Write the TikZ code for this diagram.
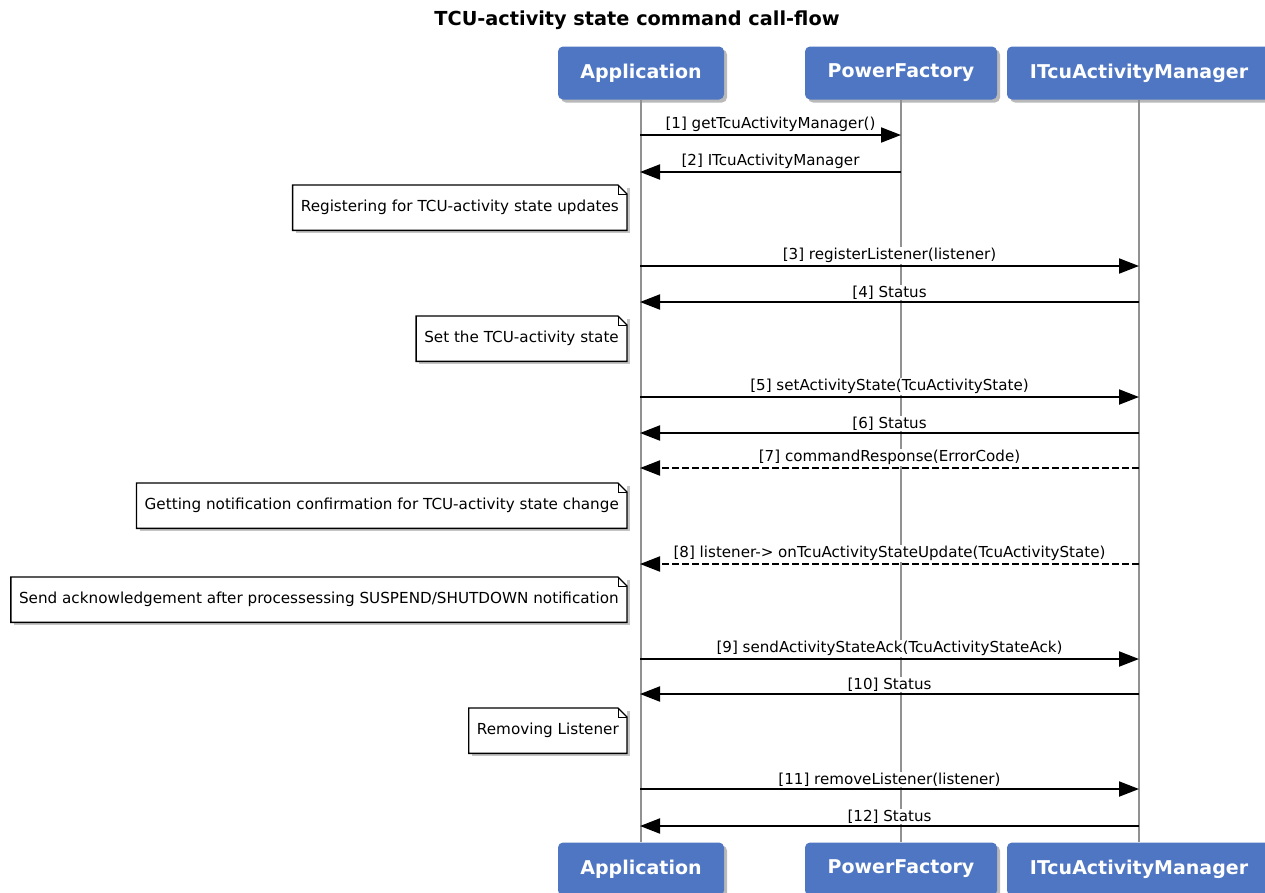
\documentclass[tikz,border=0pt]{standalone}
\usepackage{fontspec}
\setmainfont{DejaVu Sans}
\usetikzlibrary{arrows.meta,shadows}

\definecolor{headblue}{RGB}{79,118,194}
\definecolor{lifegray}{RGB}{145,145,145}

% fold corner of a note
\newcommand{\notefold}[1]{%
  \draw[noteline] (#1.north west) -- ([xshift=-9pt]#1.north east) -- ([yshift=-9pt]#1.north east)
    -- (#1.south east) -- (#1.south west) -- cycle;
  \draw[noteline,line width=1pt] ([xshift=-9pt]#1.north east) |- ([yshift=-9pt]#1.north east);
}

\begin{document}
\begin{tikzpicture}[x=1pt,y=-1pt]
\tikzset{
  head/.style={rectangle,rounded corners=5pt,fill=headblue,text=white,
    font=\bfseries\fontsize{19}{22}\selectfont,minimum height=53pt,
    drop shadow={shadow xshift=3pt,shadow yshift=-3pt,fill=black!55}},
  lifeline/.style={draw=lifegray,line width=2pt},
  note/.style={fill=white,anchor=north east,minimum height=45pt,inner xsep=8pt,
    font=\fontsize{15.2}{17}\selectfont,
    drop shadow={shadow xshift=3pt,shadow yshift=-3pt,fill=black!45}},
  noteline/.style={draw=black,line width=1.4pt,line join=miter},
  call/.style={-{Triangle[length=20pt,width=15pt]},line width=2pt},
  reply/.style={call,dash pattern=on 7pt off 3pt},
  msglabel/.style={above=1pt,fill=white,inner sep=1pt,font=\fontsize{15.1}{17}\selectfont}
}
\useasboundingbox (0,0) rectangle (1265,892);

\node[font=\bfseries\fontsize{19.3}{22}\selectfont] (title) at (637,20) {TCU-activity state command call-flow};

% participants
\node[head,minimum width=166pt] (appH) at (641,73) {Application};
\node[head,minimum width=192pt] (pfH) at (901,73) {PowerFactory};
\node[head,minimum width=264pt] (mgrH) at (1139,73) {ITcuActivityManager};
\node[head,minimum width=166pt] (appF) at (641,869) {Application};
\node[head,minimum width=192pt] (pfF) at (901,869) {PowerFactory};
\node[head,minimum width=264pt] (mgrF) at (1139,869) {ITcuActivityManager};

\draw[lifeline] (appH) -- (appF);
\draw[lifeline] (pfH) -- (pfF);
\draw[lifeline] (mgrH) -- (mgrF);

% notes
\node[note] (regNote) at (627,185) {Registering for TCU-activity state updates};
\node[note] (setNote) at (627,316) {Set the TCU-activity state};
\node[note] (getNote) at (627,483) {Getting notification confirmation for TCU-activity state change};
\node[note] (ackNote) at (627,577) {Send acknowledgement after processessing SUSPEND/SHUTDOWN notification};
\node[note] (remNote) at (627,708) {Removing Listener};
\notefold{regNote}
\notefold{setNote}
\notefold{getNote}
\notefold{ackNote}
\notefold{remNote}

% message end points
\coordinate (a1) at (640,135);  \coordinate (p1) at (901,135);
\coordinate (a2) at (640,172);  \coordinate (p2) at (901,172);
\coordinate (a3) at (640,266);  \coordinate (m3) at (1139,266);
\coordinate (a4) at (640,302);  \coordinate (m4) at (1139,302);
\coordinate (a5) at (640,397);  \coordinate (m5) at (1139,397);
\coordinate (a6) at (640,433);  \coordinate (m6) at (1139,433);
\coordinate (a7) at (640,468);  \coordinate (m7) at (1139,468);
\coordinate (a8) at (640,564);  \coordinate (m8) at (1139,564);
\coordinate (a9) at (640,659);  \coordinate (m9) at (1139,659);
\coordinate (a10) at (640,694); \coordinate (m10) at (1139,694);
\coordinate (a11) at (640,789); \coordinate (m11) at (1139,789);
\coordinate (a12) at (640,826); \coordinate (m12) at (1139,826);

\draw[call] (a1) -- node[msglabel] {[1] getTcuActivityManager()} (p1);
\draw[call] (p2) -- node[msglabel] {[2] ITcuActivityManager} (a2);
\draw[call] (a3) -- node[msglabel] {[3] registerListener(listener)} (m3);
\draw[call] (m4) -- node[msglabel] {[4] Status} (a4);
\draw[call] (a5) -- node[msglabel] {[5] setActivityState(TcuActivityState)} (m5);
\draw[call] (m6) -- node[msglabel] {[6] Status} (a6);
\draw[reply] (m7) -- node[msglabel] {[7] commandResponse(ErrorCode)} (a7);
\draw[reply] (m8) -- node[msglabel] {[8] listener-> onTcuActivityStateUpdate(TcuActivityState)} (a8);
\draw[call] (a9) -- node[msglabel] {[9] sendActivityStateAck(TcuActivityStateAck)} (m9);
\draw[call] (m10) -- node[msglabel] {[10] Status} (a10);
\draw[call] (a11) -- node[msglabel] {[11] removeListener(listener)} (m11);
\draw[call] (m12) -- node[msglabel] {[12] Status} (a12);
\end{tikzpicture}
\end{document}
